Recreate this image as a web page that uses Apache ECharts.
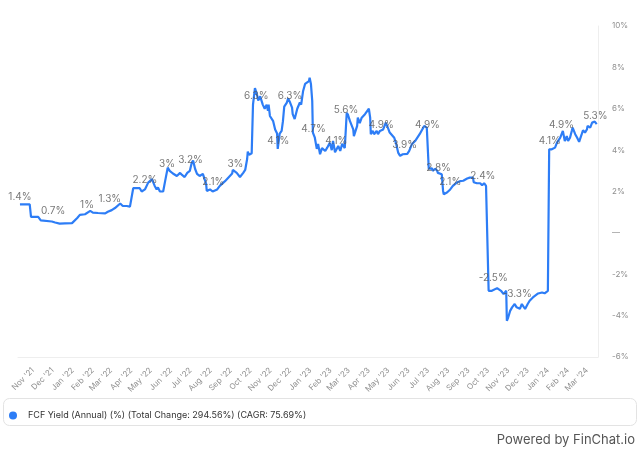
<!DOCTYPE html>
<html>
<head>
<meta charset="utf-8">
<style>
  html, body { margin: 0; padding: 0; background: #ffffff; }
  #chart { width: 640px; height: 453px; }
</style>
<script src="https://cdn.jsdelivr.net/npm/echarts@6/dist/echarts.min.js"></script>
</head>
<body>
<div id="chart"></div>
<script>
// ---- data ----
const seriesName = 'FCF Yield (Annual) (%) (Total Change: 294.56%) (CAGR: 75.69%)';

const dates = [
'2021-10-12','2021-10-27','2021-10-29','2021-11-09','2021-11-13','2021-11-16','2021-11-30','2021-12-05','2021-12-12','2021-12-20',
'2021-12-31','2022-01-03','2022-01-08','2022-01-12','2022-01-20','2022-01-28','2022-02-01','2022-02-09','2022-02-20','2022-02-24',
'2022-03-02','2022-03-07','2022-03-10','2022-03-15','2022-03-19','2022-03-25','2022-03-30','2022-04-02','2022-04-04','2022-04-14',
'2022-04-17','2022-04-22','2022-04-27','2022-05-03','2022-05-04','2022-05-07','2022-05-10','2022-05-12','2022-05-15','2022-05-20',
'2022-05-23','2022-05-27','2022-05-30','2022-06-04','2022-06-10','2022-06-15','2022-06-18','2022-06-22','2022-06-26','2022-06-30',
'2022-07-03','2022-07-05','2022-07-08','2022-07-11','2022-07-15','2022-07-20','2022-07-25','2022-07-26','2022-07-31','2022-08-04',
'2022-08-11','2022-08-15','2022-08-23','2022-08-28','2022-09-03','2022-09-04','2022-09-10','2022-09-15','2022-09-20','2022-09-23',
'2022-09-26','2022-09-27','2022-09-29','2022-10-03','2022-10-05','2022-10-08','2022-10-11','2022-10-13','2022-10-16','2022-10-20',
'2022-10-23','2022-10-26','2022-10-28','2022-10-29','2022-10-31','2022-11-03','2022-11-05','2022-11-08','2022-11-11','2022-11-12',
'2022-11-15','2022-11-18','2022-11-20','2022-11-22','2022-11-26','2022-11-28','2022-12-01','2022-12-04','2022-12-05','2022-12-08',
'2022-12-12','2022-12-16','2022-12-18','2022-12-21','2022-12-24','2022-12-27','2022-12-30','2022-12-31','2023-01-02','2023-01-04',
'2023-01-05','2023-01-08','2023-01-11','2023-01-13','2023-01-16','2023-01-19','2023-01-24','2023-01-27','2023-01-31','2023-02-03',
'2023-02-05','2023-02-08','2023-02-09','2023-02-13','2023-02-16','2023-02-19','2023-02-23','2023-02-26','2023-02-28','2023-03-03',
'2023-03-08','2023-03-09','2023-03-14','2023-03-15','2023-03-18','2023-03-21','2023-03-23','2023-03-26','2023-03-29','2023-04-01',
'2023-04-03','2023-04-04','2023-04-07','2023-04-09','2023-04-13','2023-04-15','2023-04-18','2023-04-20','2023-04-23','2023-04-27',
'2023-04-30','2023-05-03','2023-05-06','2023-05-10','2023-05-13','2023-05-16','2023-05-19','2023-05-23','2023-05-30','2023-06-02',
'2023-06-06','2023-06-11','2023-06-14','2023-06-18','2023-06-22','2023-06-25','2023-06-29','2023-07-01','2023-07-02','2023-07-04',
'2023-07-07','2023-07-08','2023-07-12','2023-07-15','2023-07-16','2023-07-19','2023-07-22','2023-07-24','2023-07-25','2023-07-30',
'2023-08-04','2023-08-08','2023-08-14','2023-08-19','2023-08-24','2023-08-30','2023-09-03','2023-09-08','2023-09-09','2023-09-14',
'2023-09-16','2023-09-19','2023-09-22','2023-09-25','2023-09-28','2023-09-29','2023-10-01','2023-10-02','2023-10-07','2023-10-09',
'2023-10-15','2023-10-18','2023-10-21','2023-10-24','2023-10-25','2023-10-29','2023-10-30','2023-11-01','2023-11-04','2023-11-07',
'2023-11-08','2023-11-11','2023-11-14','2023-11-16','2023-11-19','2023-11-22','2023-11-24','2023-11-27','2023-11-30','2023-12-01',
'2023-12-04','2023-12-09','2023-12-12','2023-12-17','2023-12-23','2023-12-27','2024-01-01','2024-01-03','2024-01-07','2024-01-12',
'2024-01-15','2024-01-20','2024-01-21','2024-01-24','2024-01-27','2024-01-30','2024-02-01','2024-02-04','2024-02-07','2024-02-08',
'2024-02-12','2024-02-15','2024-02-18','2024-02-22','2024-02-24','2024-02-27','2024-03-01','2024-03-02','2024-03-06','2024-03-09',
'2024-03-10','2024-03-13','2024-03-16'
];

const fcfYield = [
1.38,1.38,0.77,0.77,0.60,0.56,0.55,0.50,0.45,0.46,
0.47,0.55,0.72,0.87,0.90,1.06,0.98,0.96,0.94,1.02,
1.10,1.20,1.15,1.42,1.30,1.30,1.27,1.28,2.16,2.16,
2.00,2.10,2.43,2.60,2.50,2.27,2.10,2.20,2.00,2.00,
2.50,3.15,3.00,2.87,2.75,2.90,2.80,2.70,2.90,3.00,
3.40,3.50,3.10,2.85,2.75,2.85,2.37,2.03,2.10,2.00,
2.10,2.27,2.50,2.67,2.87,3.04,2.90,2.70,2.90,3.04,
3.57,3.93,3.77,3.85,6.20,7.00,6.70,6.40,6.60,6.20,
6.00,6.20,5.90,6.20,5.65,5.60,5.40,5.00,4.80,4.06,
4.80,4.93,5.40,6.10,6.30,6.50,6.30,6.05,5.74,5.50,
6.00,6.30,6.20,6.86,7.20,7.26,7.34,7.50,7.20,6.38,
4.85,4.60,4.06,4.30,3.80,4.10,3.96,4.12,4.36,4.00,
4.44,3.90,3.96,4.20,3.96,4.30,4.10,5.80,5.70,5.40,
5.00,4.68,5.17,5.57,5.30,5.57,5.50,5.74,5.74,6.00,
5.57,4.77,4.93,4.77,4.93,4.77,4.93,4.85,5.00,5.33,
5.10,4.85,4.77,4.60,4.30,3.88,3.72,3.80,3.82,3.96,
4.28,4.44,4.36,4.77,5.00,5.17,5.09,5.00,3.10,3.04,
3.12,3.00,3.10,3.00,2.90,2.83,2.83,2.03,1.87,1.95,
2.10,2.27,2.43,2.50,2.52,2.63,2.67,2.67,2.45,2.40,
2.35,2.40,2.30,2.40,2.27,2.35,2.27,-2.80,-2.80,-2.72,
-2.67,-2.76,-2.80,-2.88,-2.96,-2.80,-4.25,-4.09,-3.77,-3.60,
-3.68,-3.44,-3.60,-3.52,-3.67,-3.44,-3.52,-3.68,-3.60,-3.44,
-3.28,-3.12,-3.04,-2.93,-2.88,-2.92,-2.80,4.04,4.04,4.12,
4.36,4.60,4.68,4.93,4.44,4.68,4.44,4.60,4.96,5.09,
4.77,4.60,4.40,4.77,4.96,4.85,5.00,5.17,5.09,5.33,
5.28,5.38,5.26
];

// value annotations drawn above the line
const noteDates = [
'2021-10-12','2021-12-02','2022-01-23','2022-02-27','2022-04-22','2022-05-26','2022-07-01','2022-08-05','2022-09-08',
'2022-10-10','2022-11-13','2022-12-01','2023-01-06','2023-02-10','2023-02-25','2023-04-20','2023-05-26','2023-06-30',
'2023-07-17','2023-08-04','2023-09-23','2023-10-09','2023-11-15','2024-01-04','2024-01-22','2024-03-14'
];
const noteValues = [
1.4,0.7,1,1.3,2.2,3,3.2,2.1,3,
6.3,4.1,6.3,4.7,4.1,5.6,4.9,3.9,4.9,
2.8,2.1,2.4,-2.5,-3.3,4.1,4.9,5.3
];

// x-axis month ticks and labels
const monthTicks = [
'2021-11-01','2021-12-01','2022-01-01','2022-02-01','2022-03-01','2022-04-01','2022-05-01','2022-06-01','2022-07-01','2022-08-01',
'2022-09-01','2022-10-01','2022-11-01','2022-12-01','2023-01-01','2023-02-01','2023-03-01','2023-04-01','2023-05-01','2023-06-01',
'2023-07-01','2023-08-01','2023-09-01','2023-10-01','2023-11-01','2023-12-01','2024-01-01','2024-02-01','2024-03-01'
];
const monthLabels = [
"Nov '21","Dec '21","Jan '22","Feb '22","Mar '22","Apr '22","May '22","Jun '22","Jul '22","Aug '22",
"Sep '22","Oct '22","Nov '22","Dec '22","Jan '23","Feb '23","Mar '23","Apr '23","May '23","Jun '23",
"Jul '23","Aug '23","Sep '23","Oct '23","Nov '23","Dec '23","Jan '24","Feb '24","Mar '24"
];
const xMin = '2021-10-09';
const xMax = '2024-03-18';

// ---- helpers ----
function ts(s) { const p = s.split('-').map(Number); return Date.UTC(p[0], p[1] - 1, p[2]); }
const tickTs = monthTicks.map(ts);
const labelByTs = {};
tickTs.forEach((t, i) => { labelByTs[t] = monthLabels[i]; });

const lineData = dates.map((d, i) => [ts(d), fcfYield[i]]);
const noteData = noteDates.map((d, i) => [ts(d), noteValues[i]]);

const FONT = 'Inter, "Noto Sans", sans-serif';
const chart = echarts.init(document.getElementById('chart'), null, { renderer: 'canvas' });

chart.setOption({
  animation: false,
  backgroundColor: '#ffffff',
  grid: { left: 18, right: 42, top: 26, bottom: 96, containLabel: false },
  xAxis: {
    type: 'value',
    min: ts(xMin),
    max: ts(xMax),
    axisLine: { show: true, onZero: false, lineStyle: { color: '#eeeeee', width: 1 } },
    axisTick: { show: false },
    splitLine: { show: false },
    axisLabel: {
      customValues: tickTs,
      rotate: 45,
      margin: 12,
      fontSize: 8,
      fontFamily: FONT,
      color: '#8f8f8f',
      formatter: function (v) { return labelByTs[v] || ''; }
    }
  },
  yAxis: {
    type: 'value',
    position: 'right',
    min: -6,
    max: 10,
    interval: 2,
    axisLine: { show: true, lineStyle: { color: '#eeeeee', width: 1 } },
    axisTick: { show: false },
    splitLine: { show: false },
    axisLabel: {
      margin: 14,
      fontSize: 8,
      fontFamily: FONT,
      color: '#8f8f8f',
      formatter: function (v) { return v === 0 ? '—' : v + '%'; }
    }
  },
  legend: {
    data: [seriesName],
    left: 4,
    top: 406,
    icon: 'circle',
    itemWidth: 20,
    itemHeight: 8,
    itemGap: 8,
    textStyle: { fontSize: 9, fontFamily: FONT, color: '#333333' }
  },
  graphic: [
    {
      type: 'rect',
      shape: { x: 3.5, y: 398.5, width: 633, height: 27, r: 6 },
      style: { fill: 'none', stroke: '#e3e3e3', lineWidth: 1 },
      silent: true
    },
    {
      type: 'text',
      right: 5,
      top: 434,
      style: { text: 'Powered by FinChat.io', fontSize: 13, fontFamily: FONT, fill: '#555555' },
      silent: true
    }
  ],
  series: [
    {
      name: seriesName,
      type: 'line',
      data: lineData,
      showSymbol: false,
      symbol: 'none',
      color: '#2d7df6',
      lineStyle: { color: '#2d7df6', width: 2.2 },
      z: 2
    },
    {
      name: 'notes',
      type: 'scatter',
      data: noteData,
      symbolSize: 0,
      silent: true,
      z: 3,
      label: {
        show: true,
        position: 'top',
        distance: 2,
        fontSize: 10,
        fontFamily: FONT,
        color: '#555555',
        formatter: function (p) { return p.value[1] + '%'; }
      }
    }
  ]
});
</script>
</body>
</html>
